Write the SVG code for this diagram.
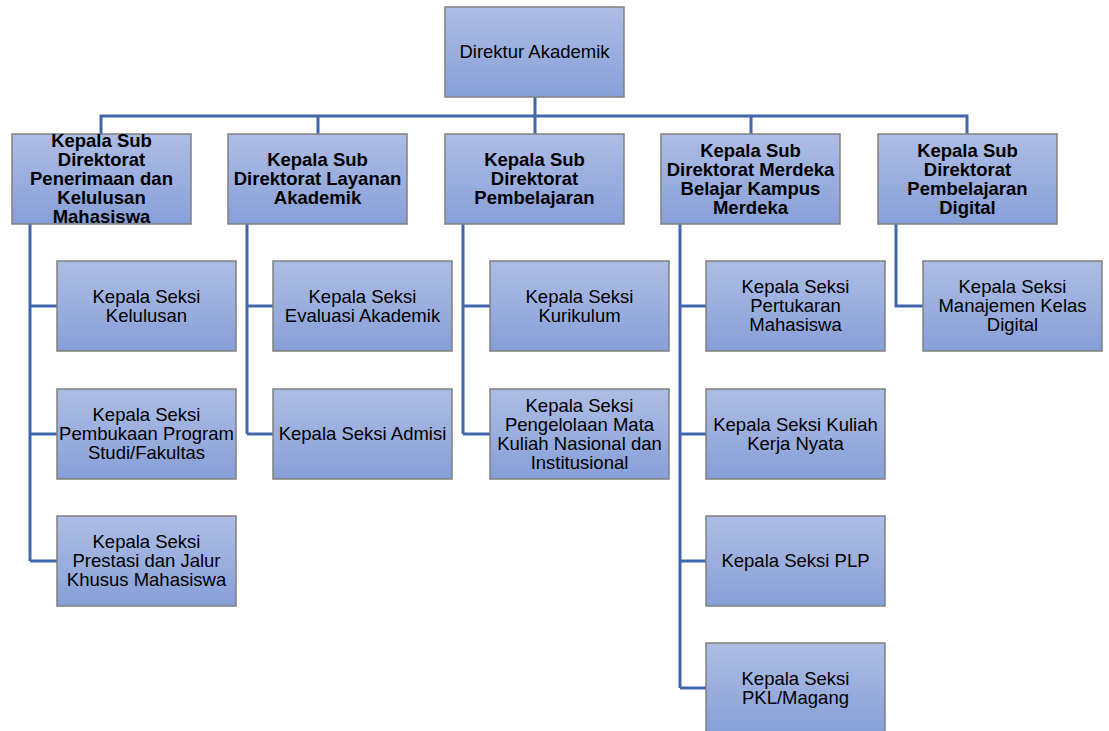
<svg xmlns="http://www.w3.org/2000/svg" width="1109" height="731" viewBox="0 0 1109 731">
<defs>
<linearGradient id="g" x1="0" y1="0" x2="0" y2="1">
<stop offset="0" stop-color="#AEBDE4"/>
<stop offset="1" stop-color="#879FD8"/>
</linearGradient>
<style>
.box{fill:url(#g);stroke:#808080;stroke-width:1.5}
.t{font-family:"Liberation Sans",Arial,sans-serif;font-size:18.5px;text-anchor:middle;fill:#000}
.b{font-weight:bold}
.conn{stroke:#4066AD;stroke-width:3;fill:none}
</style>
</defs>
<rect width="1109" height="731" fill="#fff"/>
<g id="connectors" class="conn">
<path d="M535,97V116M101,134V116H967V134M318,116V134M535,116V134M751,116V134"/>
<path d="M30,224V561M30,306H57M30,434H57M30,561H57"/>
<path d="M247,224V434M247,306H273M247,434H273"/>
<path d="M463,224V434M463,306H490M463,434H490"/>
<path d="M680,224V688M680,306H706M680,434H706M680,561H706M680,688H706"/>
<path d="M896,224V306H923"/>
</g>
<g id="direktur"><rect class="box" x="445" y="7" width="179" height="90"/><text class="t" x="534.5" y="58">Direktur Akademik</text></g>

<g id="sub1"><rect class="box" x="12" y="134" width="179" height="90"/>
<text class="t b"><tspan x="101.5" y="147">Kepala Sub</tspan><tspan x="101.5" y="166">Direktorat</tspan><tspan x="101.5" y="185">Penerimaan dan</tspan><tspan x="101.5" y="204">Kelulusan</tspan><tspan x="101.5" y="223">Mahasiswa</tspan></text></g>
<g id="sub2"><rect class="box" x="228" y="134" width="179" height="90"/>
<text class="t b"><tspan x="317.5" y="166">Kepala Sub</tspan><tspan x="317.5" y="185">Direktorat Layanan</tspan><tspan x="317.5" y="204">Akademik</tspan></text></g>
<g id="sub3"><rect class="box" x="445" y="134" width="179" height="90"/>
<text class="t b"><tspan x="534.5" y="166">Kepala Sub</tspan><tspan x="534.5" y="185">Direktorat</tspan><tspan x="534.5" y="204">Pembelajaran</tspan></text></g>
<g id="sub4"><rect class="box" x="661" y="134" width="179" height="90"/>
<text class="t b"><tspan x="750.5" y="156.5">Kepala Sub</tspan><tspan x="750.5" y="175.5">Direktorat Merdeka</tspan><tspan x="750.5" y="194.5">Belajar Kampus</tspan><tspan x="750.5" y="213.5">Merdeka</tspan></text></g>
<g id="sub5"><rect class="box" x="878" y="134" width="179" height="90"/>
<text class="t b"><tspan x="967.5" y="156.5">Kepala Sub</tspan><tspan x="967.5" y="175.5">Direktorat</tspan><tspan x="967.5" y="194.5">Pembelajaran</tspan><tspan x="967.5" y="213.5">Digital</tspan></text></g>

<g id="s1a"><rect class="box" x="57" y="261" width="179" height="90"/>
<text class="t"><tspan x="146.5" y="302.5">Kepala Seksi</tspan><tspan x="146.5" y="321.5">Kelulusan</tspan></text></g>
<g id="s1b"><rect class="box" x="57" y="389" width="179" height="90"/>
<text class="t"><tspan x="146.5" y="421">Kepala Seksi</tspan><tspan x="146.5" y="440">Pembukaan Program</tspan><tspan x="146.5" y="459">Studi/Fakultas</tspan></text></g>
<g id="s1c"><rect class="box" x="57" y="516" width="179" height="90"/>
<text class="t"><tspan x="146.5" y="548">Kepala Seksi</tspan><tspan x="146.5" y="567">Prestasi dan Jalur</tspan><tspan x="146.5" y="586">Khusus Mahasiswa</tspan></text></g>

<g id="s2a"><rect class="box" x="273" y="261" width="179" height="90"/>
<text class="t"><tspan x="362.5" y="302.5">Kepala Seksi</tspan><tspan x="362.5" y="321.5">Evaluasi Akademik</tspan></text></g>
<g id="s2b"><rect class="box" x="273" y="389" width="179" height="90"/>
<text class="t" x="362.5" y="440">Kepala Seksi Admisi</text></g>

<g id="s3a"><rect class="box" x="490" y="261" width="179" height="90"/>
<text class="t"><tspan x="579.5" y="302.5">Kepala Seksi</tspan><tspan x="579.5" y="321.5">Kurikulum</tspan></text></g>
<g id="s3b"><rect class="box" x="490" y="389" width="179" height="90"/>
<text class="t"><tspan x="579.5" y="411.5">Kepala Seksi</tspan><tspan x="579.5" y="430.5">Pengelolaan Mata</tspan><tspan x="579.5" y="449.5">Kuliah Nasional dan</tspan><tspan x="579.5" y="468.5">Institusional</tspan></text></g>

<g id="s4a"><rect class="box" x="706" y="261" width="179" height="90"/>
<text class="t"><tspan x="795.5" y="293">Kepala Seksi</tspan><tspan x="795.5" y="312">Pertukaran</tspan><tspan x="795.5" y="331">Mahasiswa</tspan></text></g>
<g id="s4b"><rect class="box" x="706" y="389" width="179" height="90"/>
<text class="t"><tspan x="795.5" y="430.5">Kepala Seksi Kuliah</tspan><tspan x="795.5" y="449.5">Kerja Nyata</tspan></text></g>
<g id="s4c"><rect class="box" x="706" y="516" width="179" height="90"/>
<text class="t" x="795.5" y="567">Kepala Seksi PLP</text></g>
<g id="s4d"><rect class="box" x="706" y="643" width="179" height="90"/>
<text class="t"><tspan x="795.5" y="684.5">Kepala Seksi</tspan><tspan x="795.5" y="703.5">PKL/Magang</tspan></text></g>

<g id="s5a"><rect class="box" x="923" y="261" width="179" height="90"/>
<text class="t"><tspan x="1012.5" y="293">Kepala Seksi</tspan><tspan x="1012.5" y="312">Manajemen Kelas</tspan><tspan x="1012.5" y="331">Digital</tspan></text></g>
</svg>
